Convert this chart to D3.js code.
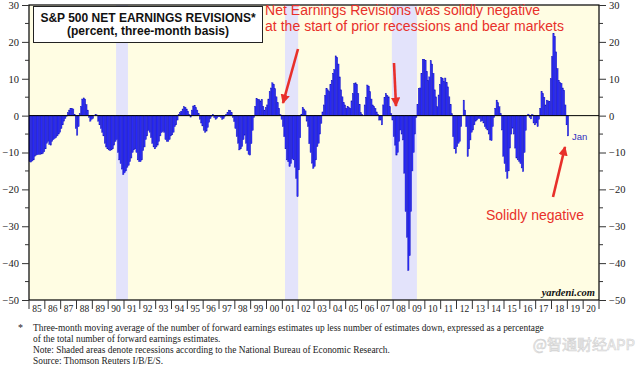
<!DOCTYPE html>
<html><head><meta charset="utf-8">
<script src="https://cdn.jsdelivr.net/npm/d3@7"></script>
<style>
html,body{margin:0;padding:0;background:#fff;}
svg{display:block;}
</style></head>
<body>
<svg id="chart" width="639" height="368"></svg>
<script>
// ---- data (monthly, Jan 1985 .. Jan 2019) ----
const startYear = 1985;
const revisions = [
  /*1985*/ [-12.5,-12.6,-12.3,-12.0,-11.0,-10.7,-10.6,-10.5,-10.5,-10.4,-10.3,-9.8],
  /*1986*/ [-9.0,-7.5,-7.0,-7.8,-8.0,-7.0,-6.5,-6.2,-6.0,-5.5,-5.0,-4.5],
  /*1987*/ [-3.5,-2.5,-1.5,-0.8,-0.2,0.8,1.5,2.0,2.0,1.8,0.3,-3.5],
  /*1988*/ [-5.3,-3.0,0.5,2.5,4.5,4.8,4.5,3.0,1.5,-0.5,-1.5,-1.0],
  /*1989*/ [-0.8,0.0,0.3,0.2,-1.5,-2.5,-3.5,-4.5,-5.5,-7.5,-8.5,-9.0],
  /*1990*/ [-9.3,-9.5,-9.3,-9.0,-8.0,-7.0,-6.5,-10.0,-12.0,-13.0,-14.5,-16.0],
  /*1991*/ [-15.5,-15.0,-14.0,-13.5,-12.5,-11.5,-10.0,-9.3,-9.0,-10.0,-12.0,-12.5],
  /*1992*/ [-12.5,-12.0,-9.5,-8.5,-6.5,-5.5,-4.0,-4.5,-6.0,-7.5,-8.5,-9.0],
  /*1993*/ [-8.5,-8.0,-7.0,-5.5,-4.6,-4.3,-4.5,-6.5,-7.0,-7.0,-6.5,-5.5],
  /*1994*/ [-5.2,-4.5,-3.0,-2.5,-1.2,0.3,0.8,1.2,1.8,2.4,2.3,1.8],
  /*1995*/ [1.2,0.3,-0.4,1.5,2.6,2.8,2.2,1.5,0.5,-1.0,-2.0,-2.8],
  /*1996*/ [-4.0,-4.5,-4.2,-3.2,-1.8,-0.8,-0.2,0.3,-0.5,-1.0,-0.7,-0.3],
  /*1997*/ [-0.3,-0.5,-1.0,-0.8,-0.2,0.3,0.8,1.5,1.4,0.8,-0.5,-1.6],
  /*1998*/ [-3.5,-5.7,-7.5,-9.3,-9.0,-8.4,-6.5,-5.3,-7.5,-9.5,-10.5,-10.7],
  /*1999*/ [-7.6,-4.0,-0.5,2.5,4.7,4.4,4.3,4.0,4.4,2.5,1.5,2.2],
  /*2000*/ [2.9,4.5,6.5,7.5,8.9,8.5,7.3,5.1,3.5,2.0,0.3,-1.0],
  /*2001*/ [-3.0,-5.7,-9.0,-12.0,-12.5,-13.8,-13.0,-11.7,-12.0,-14.0,-17.0,-22.0],
  /*2002*/ [-14.7,-6.0,0.4,2.2,1.8,1.3,-1.5,-3.0,-7.6,-10.0,-12.9,-14.3],
  /*2003*/ [-13.8,-12.0,-8.4,-7.5,-5.0,-2.1,1.0,2.9,5.5,7.4,7.0,6.5],
  /*2004*/ [8.5,9.6,11.5,12.5,16.2,15.8,14.0,10.5,7.0,5.1,3.5,2.9],
  /*2005*/ [2.0,2.5,2.2,2.0,4.0,6.0,8.7,8.9,8.5,6.0,3.0,0.8],
  /*2006*/ [0.3,0.0,2.9,5.0,8.3,8.0,6.5,4.5,2.9,2.5,2.0,1.0],
  /*2007*/ [0.4,-1.2,-1.2,-2.5,2.9,5.0,6.0,5.5,5.1,2.4,0.5,-1.2],
  /*2008*/ [-5.7,-8.0,-10.7,-10.0,-7.0,-3.9,-5.0,-6.6,-15.6,-26.0,-33.0,-42.0],
  /*2009*/ [-38.0,-26.0,-15.0,-10.0,-5.0,-0.5,3.0,7.4,7.5,11.5,15.3,15.3],
  /*2010*/ [15.0,12.0,9.6,10.5,14.9,14.0,11.5,7.0,5.1,2.4,5.6,8.5],
  /*2011*/ [10.4,10.0,9.3,10.2,9.0,7.8,5.1,3.0,0.5,-5.7,-9.0,-10.2],
  /*2012*/ [-8.4,-7.5,-7.0,-3.0,0.0,4.2,1.5,-3.0,-11.1,-9.0,-6.6,-4.5],
  /*2013*/ [-3.9,-2.5,-1.5,-1.2,-0.8,-0.8,-1.6,-1.4,-2.0,-3.0,-3.5,-3.9],
  /*2014*/ [-5.0,-6.6,-6.8,-3.0,-0.5,2.0,4.2,3.5,2.4,0.5,-3.9,-11.0],
  /*2015*/ [-13.0,-15.2,-17.0,-15.0,-8.8,-5.0,-3.4,-5.0,-8.8,-11.5,-12.0,-12.4],
  /*2016*/ [-13.0,-14.2,-15.2,-10.0,-4.0,0.0,0.4,-0.5,-0.9,0.3,-2.0,-2.5],
  /*2017*/ [-2.0,-3.0,-1.0,2.0,6.5,6.0,5.0,2.9,4.2,4.0,3.8,10.0],
  /*2018*/ [16.0,22.3,21.5,17.3,12.8,9.6,9.0,8.8,7.5,6.9,2.9,-2.5],
  /*2019*/ [-5.5]
];
const recessions = [[1990.5, 1991.25], [2001.167, 2002.0], [2007.917, 2009.5]];
const yTicks = [-50, -40, -30, -20, -10, 0, 10, 20, 30];
const yearLabels = d3.range(1985, 2021).map(y => String(y).slice(2));
const titleLines = ["S&P 500 NET EARNINGS REVISIONS*", "(percent, three-month basis)"];
const noteLines = [
  "Three-month moving average of the number of forward earnings estimates up less number of estimates down, expressed as a percentage",
  "of the total number of forward earnings estimates.",
  "Note: Shaded areas denote recessions according to the National Bureau of Economic Research.",
  "Source: Thomson Reuters I/B/E/S."
];
const annoLines = ["Net Earnings Revisions was solidly negative", "at the start of prior recessions and bear markets"];

// ---- layout ----
const svg = d3.select("#chart");
const L = 29, R = 599, T = 5, B = 300;
const x = d3.scaleLinear().domain([1985, 2021]).range([L, R]);
const y = d3.scaleLinear().domain([-50, 30]).range([B, T]);

const series = revisions.flat().map((v, i) => ({t: startYear + i / 12, v}));

svg.append("rect").attr("x", L).attr("y", T).attr("width", R - L).attr("height", B - T).attr("fill", "#fffde3");

svg.selectAll("rect.rec").data(recessions).join("rect").attr("class", "rec")
  .attr("x", d => x(d[0])).attr("y", T).attr("width", d => x(d[1]) - x(d[0])).attr("height", B - T)
  .attr("fill", "#e3e3fb");

// bars
svg.append("g").selectAll("rect").data(series).join("rect")
  .attr("x", d => x(d.t)).attr("width", x(1985 + 1 / 12) - x(1985))
  .attr("y", d => Math.min(y(d.v), y(0))).attr("height", d => Math.abs(y(d.v) - y(0)))
  .attr("fill", "#2c2cff").attr("stroke", "#1616b8").attr("stroke-width", 0.4);

// zero line
svg.append("line").attr("x1", L).attr("x2", R).attr("y1", y(0)).attr("y2", y(0)).attr("stroke", "#000").attr("stroke-width", 1);

// frame
svg.append("rect").attr("x", L).attr("y", T).attr("width", R - L).attr("height", B - T)
  .attr("fill", "none").attr("stroke", "#000").attr("stroke-width", 1.2);

// y axes
const minor = d3.range(-45, 30, 10);
const axL = d3.axisLeft(y).tickValues(yTicks).tickSize(7).tickPadding(3);
const axR = d3.axisRight(y).tickValues(yTicks).tickSize(7).tickPadding(3);
function styleAxis(g) {
  g.select(".domain").remove();
  g.selectAll("text").attr("font-family", "'Liberation Serif','Times New Roman',serif").attr("font-size", "10.5px").attr("fill", "#222");
  g.selectAll("line").attr("stroke", "#333");
}
svg.append("g").attr("transform", `translate(${L},0)`).call(axL).call(styleAxis);
svg.append("g").attr("transform", `translate(${R},0)`).call(axR).call(styleAxis);
svg.append("g").selectAll("line").data(minor).join("line")
  .attr("x1", L - 4).attr("x2", L).attr("y1", d => y(d)).attr("y2", d => y(d)).attr("stroke", "#333");
svg.append("g").selectAll("line").data(minor).join("line")
  .attr("x1", R).attr("x2", R + 4).attr("y1", d => y(d)).attr("y2", d => y(d)).attr("stroke", "#333");

// x axis
const xb = d3.range(1985, 2022);
svg.append("g").selectAll("line").data(xb).join("line")
  .attr("x1", d => x(d)).attr("x2", d => x(d)).attr("y1", B).attr("y2", B + 9).attr("stroke", "#333");
svg.append("g").selectAll("text").data(yearLabels).join("text")
  .attr("x", (d, i) => x(1985 + i + 0.5)).attr("y", B + 12).attr("text-anchor", "middle")
  .attr("font-family", "'Liberation Serif','Times New Roman',serif").attr("font-size", "9.5px").attr("fill", "#222")
  .text(d => d);

// title box
svg.append("rect").attr("x", 33.5).attr("y", 6.5).attr("width", 229).attr("height", 36)
  .attr("fill", "#fff").attr("stroke", "#222").attr("stroke-width", 1);
svg.append("g").selectAll("text").data(titleLines).join("text")
  .attr("x", 148).attr("y", (d, i) => 22 + i * 13).attr("text-anchor", "middle")
  .attr("font-family", "'Liberation Sans',Arial,sans-serif").attr("font-weight", "bold").attr("font-size", "12px").attr("fill", "#111")
  .text(d => d);

// annotations
const red = "#e8302a";
const annoWidths = [275, 299];
svg.append("g").selectAll("text").data(annoLines).join("text")
  .attr("x", 265).attr("y", (d, i) => 15 + i * 16)
  .attr("textLength", (d, i) => annoWidths[i]).attr("lengthAdjust", "spacing")
  .attr("font-family", "'Liberation Sans',Arial,sans-serif").attr("font-size", "14px").attr("fill", red)
  .text(d => d);
svg.append("text").attr("x", 486).attr("y", 220)
  .attr("font-family", "'Liberation Sans',Arial,sans-serif").attr("font-size", "14px").attr("fill", red)
  .text("Solidly negative");
svg.append("text").attr("x", 572).attr("y", 140)
  .attr("font-family", "'Liberation Sans',Arial,sans-serif").attr("font-size", "9.5px").attr("fill", "#3030c0")
  .text("Jan");

const defs = svg.append("defs");
defs.append("marker").attr("id", "ah").attr("viewBox", "0 0 10 10").attr("refX", 9).attr("refY", 5)
  .attr("markerWidth", 3.6).attr("markerHeight", 3.6).attr("orient", "auto")
  .append("path").attr("d", "M0,0 L10,5 L0,10 z").attr("fill", red);
const arrows = [[298, 49, 283, 103], [394, 63, 396, 106], [553, 197, 565, 147]];
svg.append("g").selectAll("line").data(arrows).join("line")
  .attr("x1", d => d[0]).attr("y1", d => d[1]).attr("x2", d => d[2]).attr("y2", d => d[3])
  .attr("stroke", red).attr("stroke-width", 2.6).attr("marker-end", "url(#ah)");

// source
svg.append("text").attr("x", 595).attr("y", 296).attr("text-anchor", "end")
  .attr("font-family", "'Liberation Serif','Times New Roman',serif").attr("font-weight", "bold").attr("font-style", "italic")
  .attr("font-size", "10.5px").attr("fill", "#111").text("yardeni.com");

// notes
svg.append("text").attr("x", 18).attr("y", 331).attr("font-family", "'Liberation Serif',serif").attr("font-size", "10px").attr("fill", "#222").text("*");
svg.append("g").selectAll("text").data(noteLines).join("text")
  .attr("x", 33).attr("y", (d, i) => 331 + i * 11)
  .attr("font-family", "'Liberation Serif','Times New Roman',serif").attr("font-size", "9.4px").attr("fill", "#222")
  .text(d => d);

// watermark
svg.append("text").attr("x", 635).attr("y", 350).attr("text-anchor", "end")
  .attr("font-family", "'Noto Sans CJK SC',sans-serif").attr("font-size", "15px")
  .attr("fill", "#f4f4f4").attr("stroke", "#d2d2d2").attr("stroke-width", 0.6)
  .text("@智通财经APP");
</script>
</body></html>
